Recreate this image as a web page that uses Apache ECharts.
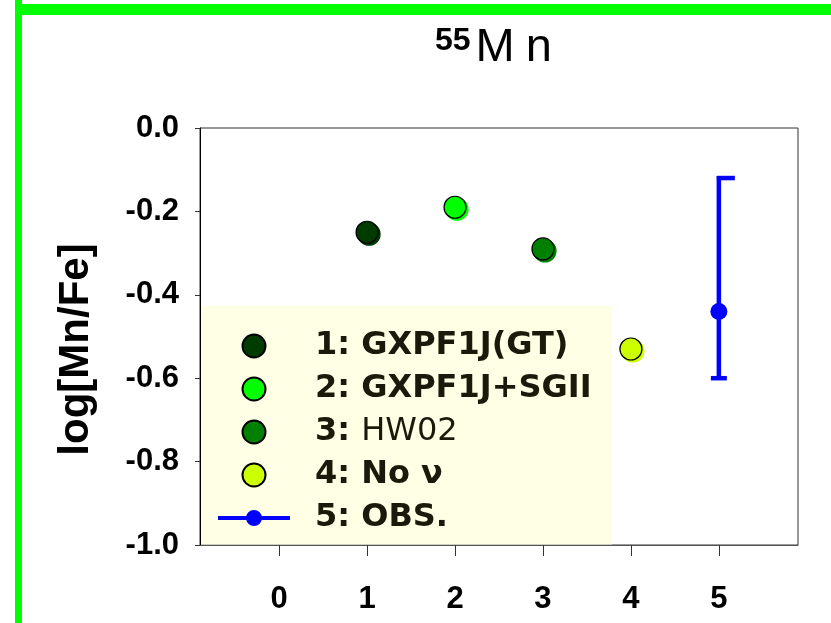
<!DOCTYPE html>
<html>
<head>
<meta charset="utf-8">
<script src="https://cdn.jsdelivr.net/npm/echarts@6/dist/echarts.min.js"></script>
<style>
  html, body { margin: 0; padding: 0; background: #fff; }
  #chart { width: 831px; height: 623px; }
</style>
</head>
<body>
<div id="chart"></div>
<script>
// ---- data ----
const modelNames = ['1: GXPF1J(GT)', '2: GXPF1J+SGII', '3: HW02', '4: No ν'];
const modelX = [1, 2, 3, 4];
const modelY = [-0.25, -0.19, -0.29, -0.53];
const obsName = '5: OBS.';
const obsX = [5];
const obsY = [-0.44];
const obsLow = [-0.60];
const obsHigh = [-0.12];
const xTickValues = [0, 1, 2, 3, 4, 5];
const yTickValues = [0, -0.2, -0.4, -0.6, -0.8, -1.0];

// ---- styles ----
const modelColors = ['#003c00', '#00ff00', '#008000', '#ccff00'];
const obsColor = '#0000ff';
const tickFont = { fontFamily: 'Liberation Sans', fontWeight: 'bold', fontSize: 31, color: '#000' };

const chart = echarts.init(document.getElementById('chart'), null, { renderer: 'canvas' });

const series = modelNames.map((name, i) => ({
  type: 'scatter',
  name: name,
  data: [[modelX[i], modelY[i]]],
  symbol: 'circle',
  symbolSize: 22,
  z: 4,
  itemStyle: {
    color: modelColors[i],
    borderColor: '#000',
    borderWidth: 1.2,
    shadowColor: modelColors[i],
    shadowBlur: 0,
    shadowOffsetX: 2,
    shadowOffsetY: 2,
    opacity: 1
  },
  emphasis: { disabled: true }
}));

series.push({
  type: 'custom',
  name: 'obsError',
  z: 3,
  data: obsX.map((x, i) => [x, obsLow[i], obsHigh[i]]),
  encode: { x: 0, y: [1, 2] },
  renderItem: function (params, api) {
    const x = api.value(0);
    const lo = api.coord([x, api.value(1)]);
    const hi = api.coord([x, api.value(2)]);
    const st = { stroke: obsColor, lineWidth: 4.5, fill: null };
    return {
      type: 'group',
      children: [
        { type: 'line', shape: { x1: hi[0], y1: hi[1] - 2, x2: lo[0], y2: lo[1] }, style: st },
        { type: 'line', shape: { x1: hi[0] - 2, y1: hi[1], x2: hi[0] + 16, y2: hi[1] }, style: st },
        { type: 'line', shape: { x1: lo[0] - 8, y1: lo[1], x2: lo[0] + 8, y2: lo[1] }, style: st }
      ]
    };
  },
  emphasis: { disabled: true }
});

series.push({
  type: 'scatter',
  name: obsName,
  data: obsX.map((x, i) => [x, obsY[i]]),
  symbol: 'circle',
  symbolSize: 17,
  z: 5,
  itemStyle: { color: obsColor, opacity: 1 },
  emphasis: { disabled: true }
});

const legendData = modelNames.map(n => ({ name: n, icon: 'circle' }));
legendData.push({
  name: obsName,
  icon: 'path://M0,7 h72 v4 h-72 z M28,9 a8,8 0 1,1 16,0 a8,8 0 1,1 -16,0 z'
});

const option = {
  backgroundColor: '#ffffff',
  animation: false,
  title: {
    text: '{s|55}{m|M}{n|n}',
    left: 435,
    top: 25,
    padding: 0,
    textStyle: {
      rich: {
        s: { fontFamily: 'Liberation Sans', fontWeight: 'bold', fontSize: 32, lineHeight: 16, verticalAlign: 'top', color: '#000' },
        m: { fontFamily: 'Liberation Sans', fontWeight: 'normal', fontSize: 47, lineHeight: 46, color: '#000', padding: [0, 0, 0, 5] },
        n: { fontFamily: 'Liberation Sans', fontWeight: 'normal', fontSize: 47, lineHeight: 46, color: '#000', padding: [0, 0, 0, 11] }
      }
    }
  },
  grid: {
    left: 200, right: 33, top: 128, bottom: 78,
    show: true, borderColor: '#333', borderWidth: 1, backgroundColor: 'transparent'
  },
  graphic: [
    { type: 'rect', z: 0, shape: { x: 201, y: 306, width: 411, height: 238.5 }, style: { fill: '#ffffe6' } },
    { type: 'rect', z: 100, shape: { x: 15, y: 0, width: 7, height: 623 }, style: { fill: '#00ff00' } },
    { type: 'rect', z: 100, shape: { x: 15, y: 4, width: 816, height: 11 }, style: { fill: '#00ff00' } }
  ],
  legend: {
    data: legendData,
    orient: 'vertical',
    left: 218,
    top: 330,
    padding: 0,
    itemWidth: 72,
    itemHeight: 23,
    itemGap: 11,
    selectedMode: false,
    formatter: function (name) {
      const k = name.indexOf(': ');
      const head = name.slice(0, k + 2);
      const rest = name.slice(k + 2);
      const style = (rest === 'HW02') ? 'n' : 'b';
      return '{b|' + head + '}{' + style + '|' + rest + '}';
    },
    textStyle: {
      padding: [0, 0, 0, 20],
      rich: {
        b: { fontFamily: 'DejaVu Sans', fontWeight: 'bold', fontSize: 32, lineHeight: 23, color: '#1a1a0a' },
        n: { fontFamily: 'DejaVu Sans', fontWeight: 'normal', fontSize: 32, lineHeight: 23, color: '#1a1a0a' }
      }
    }
  },
  xAxis: {
    type: 'value',
    min: -0.9,
    max: 5.9,
    z: 5,
    axisLine: { show: true, onZero: false, lineStyle: { color: '#555', width: 1 } },
    axisTick: { show: true, inside: false, length: 11, customValues: xTickValues, lineStyle: { color: '#333' } },
    axisLabel: Object.assign({ margin: 39, customValues: xTickValues, formatter: v => String(v) }, tickFont),
    splitLine: { show: false }
  },
  yAxis: {
    type: 'value',
    min: -1,
    max: 0,
    interval: 0.2,
    z: 5,
    name: 'log[Mn/Fe]',
    nameLocation: 'middle',
    nameRotate: 90,
    nameGap: 103,
    nameTextStyle: { fontFamily: 'Liberation Sans', fontWeight: 'bold', fontSize: 42, color: '#000', padding: [0, 26, 0, 0] },
    axisLine: { show: true, onZero: false, lineStyle: { color: '#000', width: 1 } },
    axisTick: { show: true, inside: false, length: 5, lineStyle: { color: '#333' } },
    axisLabel: Object.assign({ margin: 21, formatter: v => v.toFixed(1) }, tickFont),
    splitLine: { show: false }
  },
  series: series
};

chart.setOption(option);
</script>
</body>
</html>
